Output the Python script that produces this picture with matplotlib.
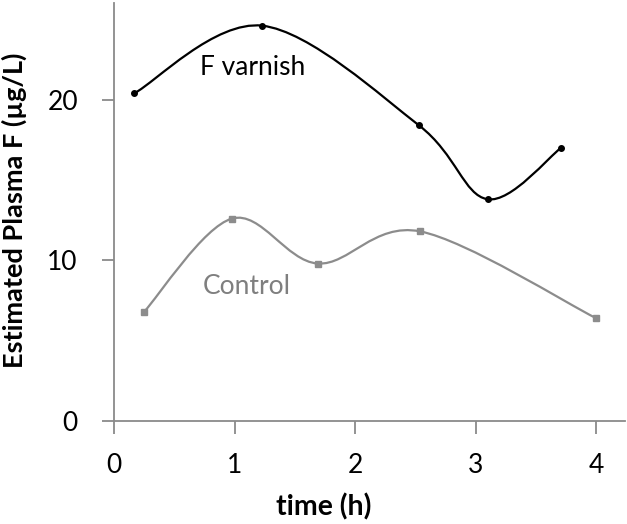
import numpy as np
import matplotlib
matplotlib.use("Agg")
import matplotlib.pyplot as plt
from matplotlib.path import Path
from matplotlib.patches import PathPatch

plt.rcParams['font.family'] = ['Lato', 'DejaVu Sans']

# --- data ---
varnish_t = [0.17, 1.23, 2.53, 3.10, 3.71]
varnish_f = [20.4, 24.6, 18.4, 13.8, 17.0]
control_t = [0.25, 0.98, 1.69, 2.54, 4.00]
control_f = [6.8, 12.6, 9.8, 11.8, 6.4]
x_ticks = [0, 1, 2, 3, 4]
y_ticks = [0, 10, 20]

AXIS_GREY = "#8a8a8a"


def smooth_path(xs, ys):
    """Excel-like smoothed line: cubic Bezier through the points."""
    pts = np.column_stack([xs, ys]).astype(float)
    n = len(pts)
    verts = [pts[0]]
    codes = [Path.MOVETO]
    for i in range(n - 1):
        p_prev = pts[max(i - 1, 0)]
        p0 = pts[i]
        p1 = pts[i + 1]
        p_next = pts[min(i + 2, n - 1)]
        c1 = p0 + (p1 - p_prev) / 6.0
        c2 = p1 - (p_next - p0) / 6.0
        verts += [c1, c2, p1]
        codes += [Path.CURVE4] * 3
    return Path(verts, codes)


fig = plt.figure(figsize=(6.27, 5.24), dpi=100)
W, H = 627, 524
left, right = 114, 625
bottom_px, top_px = 421, 3.2
ax = fig.add_axes([left / W, (H - bottom_px) / H,
                   (right - left) / W, (bottom_px - top_px) / H])

# lines
ax.add_patch(PathPatch(smooth_path(varnish_t, varnish_f), facecolor="none",
                       edgecolor="black", linewidth=1.6))
ax.add_patch(PathPatch(smooth_path(control_t, control_f), facecolor="none",
                       edgecolor="#8c8c8c", linewidth=1.6))
ax.plot(varnish_t, varnish_f, linestyle="none", marker="o",
        markersize=4, color="black")
ax.plot(control_t, control_f, linestyle="none", marker="s",
        markersize=4, color="#8c8c8c")

# series labels
ax.text(1.15, 22.0, "F varnish", fontsize=19, color="black",
        ha="center", va="center")
ax.text(1.10, 8.4, "Control", fontsize=19, color="#7f7f7f",
        ha="center", va="center")

ax.set_xlim(0, 4.24)
ax.set_ylim(0, 26)
ax.set_xticks(x_ticks)
ax.set_yticks(y_ticks)

for s in ["top", "right"]:
    ax.spines[s].set_visible(False)
for s in ["left", "bottom"]:
    ax.spines[s].set_color(AXIS_GREY)
    ax.spines[s].set_linewidth(1.3)
ax.tick_params(axis="both", direction="out", length=9, width=1.3,
               color=AXIS_GREY, labelsize=19)
ax.tick_params(axis="x", pad=14)
ax.tick_params(axis="y", pad=17)

ax.set_xlabel("time (h)", fontsize=20.5, fontweight="bold", va="center")
ax.set_ylabel("Estimated Plasma F (µg/L)", fontsize=19.5, fontweight="bold",
              va="center")
ax.xaxis.set_label_coords((324 - left) / (right - left),
                          -(507 - bottom_px) / (bottom_px - top_px))
ax.yaxis.set_label_coords(-(left - 14) / (right - left),
                          (bottom_px - 210) / (bottom_px - top_px))

fig.savefig("out.png", dpi=100)
